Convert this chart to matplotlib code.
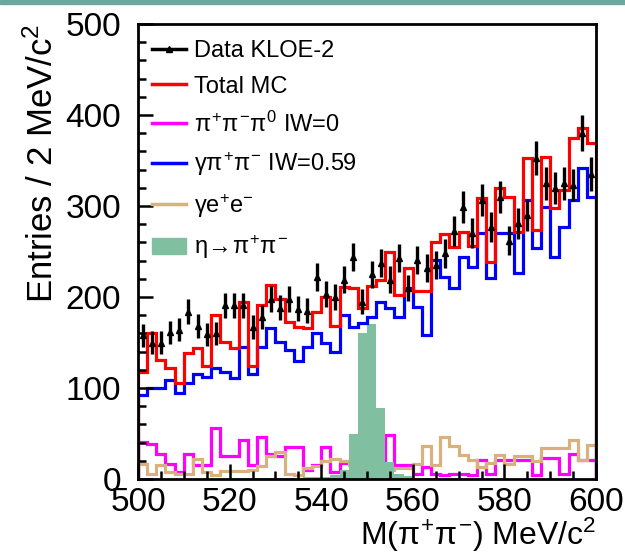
import numpy as np
import matplotlib
matplotlib.use('Agg')
import matplotlib.pyplot as plt
import matplotlib.patches as patches
from matplotlib.lines import Line2D

plt.rcParams['font.family'] = ['Liberation Sans', 'DejaVu Sans']
plt.rcParams['mathtext.fontset'] = 'custom'
plt.rcParams['mathtext.rm'] = 'Liberation Sans'
plt.rcParams['mathtext.it'] = 'Liberation Sans'
plt.rcParams['mathtext.bf'] = 'Liberation Sans:bold'

# 2 MeV bins from 500 to 600
edges = np.arange(500, 602, 2)

data_kloe = [158, 150, 150, 161, 164, 184, 168, 159, 160, 191,
             191, 191, 167, 178, 198, 188, 198, 187, 185, 222,
             203, 200, 219, 244, 195, 225, 237, 219, 243, 210,
             241, 232, 235, 248, 273, 299, 270, 307, 277, 310,
             262, 281, 290, 353, 325, 320, 325, 323, 380, 335]

total_mc = [118, 160, 131, 122, 106, 138, 144, 124, 180, 151,
            144, 195, 124, 191, 213, 198, 173, 167, 166, 184,
            200, 168, 211, 210, 188, 212, 219, 250, 202, 232,
            207, 207, 260, 269, 255, 271, 256, 309, 239, 320,
            310, 271, 353, 274, 354, 298, 318, 375, 386, 369]

gpipi = [92, 100, 100, 109, 94, 106, 115, 112, 122, 118,
         111, 145, 115, 145, 166, 151, 142, 130, 145, 160,
         149, 140, 180, 167, 171, 178, 195, 188, 178, 210,
         189, 158, 241, 222, 210, 244, 233, 270, 221, 270,
         270, 226, 307, 254, 299, 244, 277, 307, 342, 310]

pipipi0 = [41, 38, 28, 17, 8, 28, 15, 15, 56, 25,
           25, 43, 15, 46, 28, 25, 35, 35, 10, 15,
           35, 8, 18, 20, 22, 15, 20, 48, 15, 15,
           5, 13, 6, 4, 6, 6, 4, 21, 6, 21,
           21, 21, 21, 4, 23, 23, 6, 28, 21, 21]

gee = [17, 5, 15, 8, 5, 6, 22, 8, 4, 9,
       9, 9, 10, 14, 25, 30, 6, 4, 12, 14,
       20, 22, 20, 15, 10, 8, 8, 10, 12, 12,
       17, 36, 15, 46, 36, 26, 21, 13, 18, 26,
       17, 25, 25, 20, 34, 34, 34, 43, 21, 37]

eta_pipi = [0, 0, 0, 0, 0, 0, 0, 0, 0, 0,
            1, 1, 1, 1, 1, 1, 1, 1, 2, 2,
            2, 4, 10, 50, 160, 170, 78, 19, 5, 3,
            1, 1, 1, 1, 1, 0, 0, 0, 0, 0,
            0, 0, 0, 0, 0, 0, 0, 0, 0, 0]

labels = ['Data KLOE-2', 'Total MC', r'$\pi^{+}\pi^{-}\pi^{0}$ IW=0',
          r'$\gamma\pi^{+}\pi^{-}$ IW=0.59', r'$\gamma$e$^{+}$e$^{-}$',
          r'$\eta\!\rightarrow\!\pi^{+}\pi^{-}$']

c_mag = '#ff00ff'
c_tan = '#d8b17e'
c_green = '#80c0a0'
c_blue = '#0000ff'
c_red = '#ff0000'

fig = plt.figure(figsize=(6.25, 5.53), dpi=100)
ax = fig.add_axes([138/625, 1-479/553, 458/625, 455/553])

lw = 2.3
ax.stairs(pipipi0, edges, color=c_mag, lw=lw, baseline=0)
ax.stairs(gee, edges, color=c_tan, lw=lw, baseline=0)
ax.stairs(eta_pipi, edges, color=c_green, fill=True, baseline=0)
ax.stairs(gpipi, edges, color=c_blue, lw=lw, baseline=0)
ax.stairs(total_mc, edges, color=c_red, lw=lw, baseline=0)

centers = 0.5*(edges[1:] + edges[:-1])
d = np.array(data_kloe, dtype=float)
ax.errorbar(centers, d, yerr=np.sqrt(d), fmt='^', color='black', ms=5,
            elinewidth=2.4, capsize=0, zorder=5)

ax.set_xlim(500, 600)
ax.set_ylim(0, 500)
ax.set_xticks(np.arange(500, 601, 20))
ax.set_xticks(np.arange(500, 601, 5), minor=True)
ax.set_yticks(np.arange(0, 501, 100))
ax.set_yticks(np.arange(0, 501, 20), minor=True)
ax.tick_params(which='both', direction='in', top=False, right=False, width=1.8)
ax.tick_params(which='major', length=11, labelsize=24)
ax.tick_params(axis='y', which='major', pad=12)
ax.tick_params(axis='x', which='major', pad=6)
ax.tick_params(which='minor', length=6)
for s in ax.spines.values():
    s.set_linewidth(2)

ax.set_ylabel('Entries / 2 MeV/c$^{2}$', fontsize=25, loc='top', labelpad=4)
ax.set_xlabel(r'M($\pi^{+}\pi^{-}$) MeV/c$^{2}$', fontsize=23, loc='right', labelpad=-2)

handles = [Line2D([], [], color='black', marker='^', ms=5, lw=2.5),
           Line2D([], [], color=c_red, lw=2.5),
           Line2D([], [], color=c_mag, lw=2.5),
           Line2D([], [], color=c_blue, lw=2.5),
           Line2D([], [], color=c_tan, lw=2.5),
           patches.Patch(color=c_green)]
ax.legend(handles, labels, loc='upper left', bbox_to_anchor=(0.03, 0.965),
          frameon=False, fontsize=17, handlelength=1.45, handletextpad=0.35,
          labelspacing=0.58, borderpad=0, borderaxespad=0)

# teal strip at the very top
fig.patches.append(patches.Rectangle((0, 1-4/553), 1, 4/553, transform=fig.transFigure,
                                     color='#6aa89e', zorder=0))

fig.savefig('out.png', dpi=100)
